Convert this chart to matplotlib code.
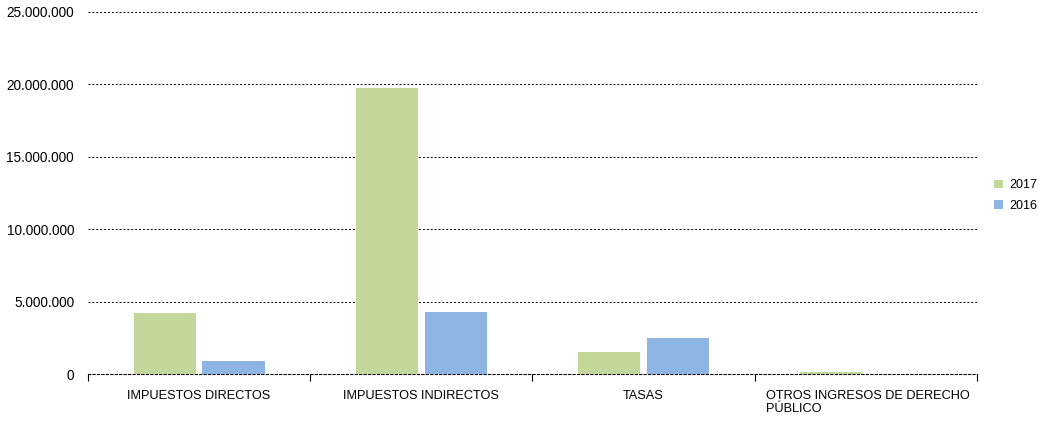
import matplotlib
matplotlib.use("Agg")
import matplotlib.pyplot as plt
import numpy as np
from matplotlib.ticker import FuncFormatter

categories = ["IMPUESTOS DIRECTOS", "IMPUESTOS INDIRECTOS", "TASAS",
              "OTROS INGRESOS DE DERECHO\nPÚBLICO"]
series_names = ["2017", "2016"]
values_2017 = [4210000, 19750000, 1520000, 120000]
values_2016 = [900000, 4280000, 2490000, 10000]
colors = ["#c4d79b", "#8eb4e3"]

plt.rcParams['font.family'] = ['Liberation Sans', 'DejaVu Sans']

fig = plt.figure(figsize=(10.39, 4.21), dpi=100)
ax = fig.add_axes([0.0847, 0.1116, 0.8556, 0.8599])

x = np.arange(len(categories))
w = 0.28
off = 0.155
ax.bar(x - off, values_2017, w, color=colors[0], label=series_names[0], zorder=3)
ax.bar(x + off, values_2016, w, color=colors[1], label=series_names[1], zorder=3)

ax.set_xlim(-0.5, len(categories) - 0.5)
ax.set_ylim(0, 25000000)
ax.set_yticks(np.arange(0, 25000001, 5000000))
ax.yaxis.set_major_formatter(FuncFormatter(lambda v, p: f"{int(v):,}".replace(",", ".")))
ax.tick_params(axis='y', length=0, labelsize=9.8, pad=10)
ax.grid(axis='y', color='black', linestyle=(0, (2, 2)), linewidth=0.7, zorder=1)

ax.set_xticks(x)
ax.set_xticklabels([])
ax.tick_params(axis='x', length=0)
for i, c in enumerate(categories):
    if "\n" in c:
        ax.text(i - 0.45, -0.045, c, transform=ax.get_xaxis_transform(), ha='left', va='top',
                fontsize=9.2, multialignment='left', linespacing=1.1)
    else:
        ax.text(i, -0.045, c, transform=ax.get_xaxis_transform(), ha='center', va='top', fontsize=9.2)
ax.set_xticks(np.arange(-0.5, len(categories)), minor=True)
ax.tick_params(axis='x', which='minor', length=5, width=0.8, color='black', direction='out')

for s in ['top', 'right', 'left']:
    ax.spines[s].set_visible(False)
ax.spines['bottom'].set_visible(True)
ax.spines['bottom'].set_linestyle((0, (2, 2)))
ax.spines['bottom'].set_linewidth(0.8)

leg = fig.legend(loc='center left', bbox_to_anchor=(0.946, 0.535), frameon=False, fontsize=9,
                 handlelength=0.7, handleheight=0.7, handletextpad=0.5, labelspacing=0.7)

fig.savefig("out.png", dpi=100)
